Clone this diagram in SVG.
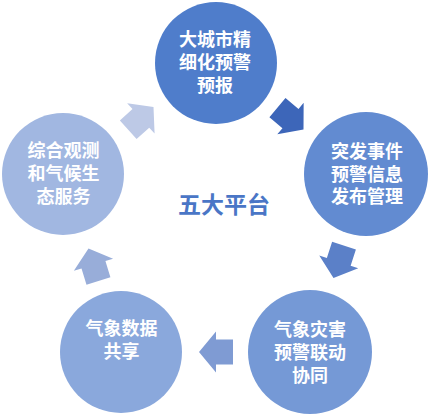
<svg xmlns="http://www.w3.org/2000/svg" width="431" height="417" viewBox="0 0 431 417">
<defs>
<style>
.lbl{font-family:"Noto Sans CJK SC","Liberation Sans",sans-serif;font-size:18px;font-weight:bold;fill:#ffffff;text-anchor:middle}
.title{font-family:"Noto Sans CJK SC","Liberation Sans",sans-serif;font-size:23px;font-weight:bold;fill:#4a76c6;text-anchor:middle}
</style>
<polygon id="arr" points="0,0 -17,-20.5 -17,-12.5 -34,-12.5 -34,12.5 -17,12.5 -17,20.5"/>
</defs>
<rect width="431" height="417" fill="#ffffff"/>
<g id="connectors">
<use href="#arr" transform="translate(303.5,129.5) rotate(40)" fill="#3d66b9"/>
<use href="#arr" transform="translate(333.5,278) rotate(108)" fill="#5b80c8"/>
<use href="#arr" transform="translate(199,352) rotate(180)" fill="#7f9bd3"/>
<use href="#arr" transform="translate(88.5,248.5) rotate(-107)" fill="#98add9"/>
<use href="#arr" transform="translate(153.5,107) rotate(-42)" fill="#bdc9e6"/>
</g>
<g id="node-top">
<circle cx="216" cy="63" r="61" fill="#4f7dcb"/>
<text class="lbl"><tspan x="215" y="46">大城市精</tspan><tspan x="215" y="69">细化预警</tspan><tspan x="215" y="92">预报</tspan></text>
</g>
<g id="node-right">
<circle cx="366" cy="174" r="62" fill="#628bd1"/>
<text class="lbl"><tspan x="367" y="158">突发事件</tspan><tspan x="367" y="181">预警信息</tspan><tspan x="367" y="203">发布管理</tspan></text>
</g>
<g id="node-bottom-right">
<circle cx="310" cy="352" r="62" fill="#7599d6"/>
<text class="lbl"><tspan x="310" y="336">气象灾害</tspan><tspan x="310" y="359">预警联动</tspan><tspan x="310" y="382">协同</tspan></text>
</g>
<g id="node-bottom-left">
<circle cx="121" cy="352" r="61" fill="#8aa8dc"/>
<text class="lbl"><tspan x="121.5" y="335">气象数据</tspan><tspan x="121.5" y="358">共享</tspan></text>
</g>
<g id="node-left">
<circle cx="63" cy="174" r="61" fill="#a1b7e1"/>
<text class="lbl"><tspan x="63.5" y="157">综合观测</tspan><tspan x="63.5" y="180">和气候生</tspan><tspan x="63.5" y="203">态服务</tspan></text>
</g>
<text class="title" x="224" y="213">五大平台</text>
</svg>
